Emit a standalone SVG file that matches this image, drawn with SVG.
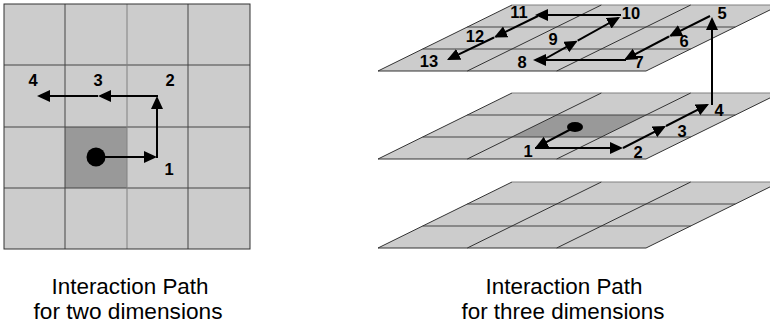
<svg xmlns="http://www.w3.org/2000/svg" width="770" height="324" viewBox="0 0 770 324">
<style>
.cell{fill:#cccccc;stroke:none}
.dark{fill:#999999;stroke:none}
.gl{stroke:#444444;stroke-width:1;fill:none}
.gl2{stroke:#808080;stroke-width:1;fill:none}
.edge{stroke:#333333;stroke-width:1;fill:none}
.arr{stroke:#000;stroke-width:2;fill:none;marker-end:url(#ah)}
.num{font-family:"Liberation Sans",Arial,sans-serif;font-weight:bold;font-size:16.5px;fill:#000;text-anchor:middle}
.cap{font-family:"Liberation Sans",Arial,sans-serif;font-size:22px;fill:#000;text-anchor:middle}
</style>
<defs>
<marker id="ah" markerUnits="userSpaceOnUse" markerWidth="13" markerHeight="13" refX="11" refY="6" orient="auto">
<path d="M0,0 L13,6 L0,12 z" fill="#000"/>
</marker>
</defs>

<g id="grid2d">
<rect class="cell" x="4" y="4" width="246" height="245"/>
<rect class="dark" x="65" y="127" width="62" height="61"/>
<path class="gl" d="M65,4 V249 M188,4 V249 M4,65 H250 M4,127 H250 M4,188 H250"/>
<path class="gl2" d="M127,4 V249"/>
<rect class="edge" x="4" y="4" width="246" height="245"/>
<circle cx="96" cy="157" r="9.5" fill="#000"/>
</g>

<g id="plane-top">
<path class="cell" d="M378,71 L646,71 L780,5 L512,5 Z"/>
<path class="gl2" d="M512,5 H780"/>
<path class="gl" d="M422.7,49 H690.7 M467.3,27 H735.3"/>
<path class="edge" d="M378,71 H646 M378,71 L512,5 M646,71 L780,5 M467.3,71 L601.3,5 M556.7,71 L690.7,5"/>
</g>

<g id="plane-mid">
<path class="cell" d="M378,159 L646,159 L780,93 L512,93 Z"/>
<path class="dark" d="M512,137 L601.3,137 L646,115 L556.7,115 Z"/>
<path class="gl2" d="M512,93 H780"/>
<path class="gl" d="M422.7,137 H690.7 M467.3,115 H735.3"/>
<path class="edge" d="M378,159 H646 M378,159 L512,93 M646,159 L780,93 M467.3,159 L601.3,93 M556.7,159 L690.7,93"/>
<ellipse cx="575" cy="127" rx="8" ry="5" fill="#000"/>
</g>

<g id="plane-bottom">
<path class="cell" d="M378,248 L646,248 L780,182 L512,182 Z"/>
<path class="gl2" d="M512,182 H780"/>
<path class="gl" d="M422.7,226 H690.7 M467.3,204 H735.3"/>
<path class="edge" d="M378,248 H646 M378,248 L512,182 M646,248 L780,182 M467.3,248 L601.3,182 M556.7,248 L690.7,182"/>
</g>

<g id="connectors">
<path class="arr" d="M96,157 H155"/>
<path class="arr" d="M157,158 V98"/>
<path class="arr" d="M158,96 H100"/>
<path class="arr" d="M98,96 H39"/>

<path class="arr" d="M575,127 L536.8,147.1"/>
<path class="arr" d="M535,148 H621"/>
<path class="arr" d="M623,148 L664.2,126.9"/>
<path class="arr" d="M666,126 L707.2,104.9"/>
<path class="arr" d="M712,105 V19"/>

<path class="arr" d="M710,16 L670.8,35.6"/>
<path class="arr" d="M669,36.5 L625.8,59.1"/>
<path class="arr" d="M626,60 H535"/>
<path class="arr" d="M543,60 L575.9,41.7"/>
<path class="arr" d="M577.7,40.7 L618.3,18"/>
<path class="arr" d="M621,15 H537"/>
<path class="arr" d="M538,16 L495.8,36.6"/>
<path class="arr" d="M494,37.5 L448.8,59.1"/>
</g>

<g id="labels">
<text class="num" x="169" y="175">1</text>
<text class="num" x="170" y="86">2</text>
<text class="num" x="98" y="86">3</text>
<text class="num" x="33" y="86">4</text>

<text class="num" x="528" y="157">1</text>
<text class="num" x="638" y="158">2</text>
<text class="num" x="682" y="137">3</text>
<text class="num" x="719" y="116">4</text>

<text class="num" x="722" y="19">5</text>
<text class="num" x="684" y="47">6</text>
<text class="num" x="639" y="68">7</text>
<text class="num" x="522" y="68">8</text>
<text class="num" x="553" y="45">9</text>
<text class="num" x="631" y="19">10</text>
<text class="num" x="519" y="18">11</text>
<text class="num" x="475" y="42">12</text>
<text class="num" x="429" y="67">13</text>
</g>

<g id="captions">
<text class="cap" x="130" y="294" textLength="157" lengthAdjust="spacingAndGlyphs">Interaction Path</text>
<text class="cap" x="128" y="319" textLength="189" lengthAdjust="spacingAndGlyphs">for two dimensions</text>
<text class="cap" x="564" y="294" textLength="157" lengthAdjust="spacingAndGlyphs">Interaction Path</text>
<text class="cap" x="563" y="319" textLength="203" lengthAdjust="spacingAndGlyphs">for three dimensions</text>
</g>
</svg>
